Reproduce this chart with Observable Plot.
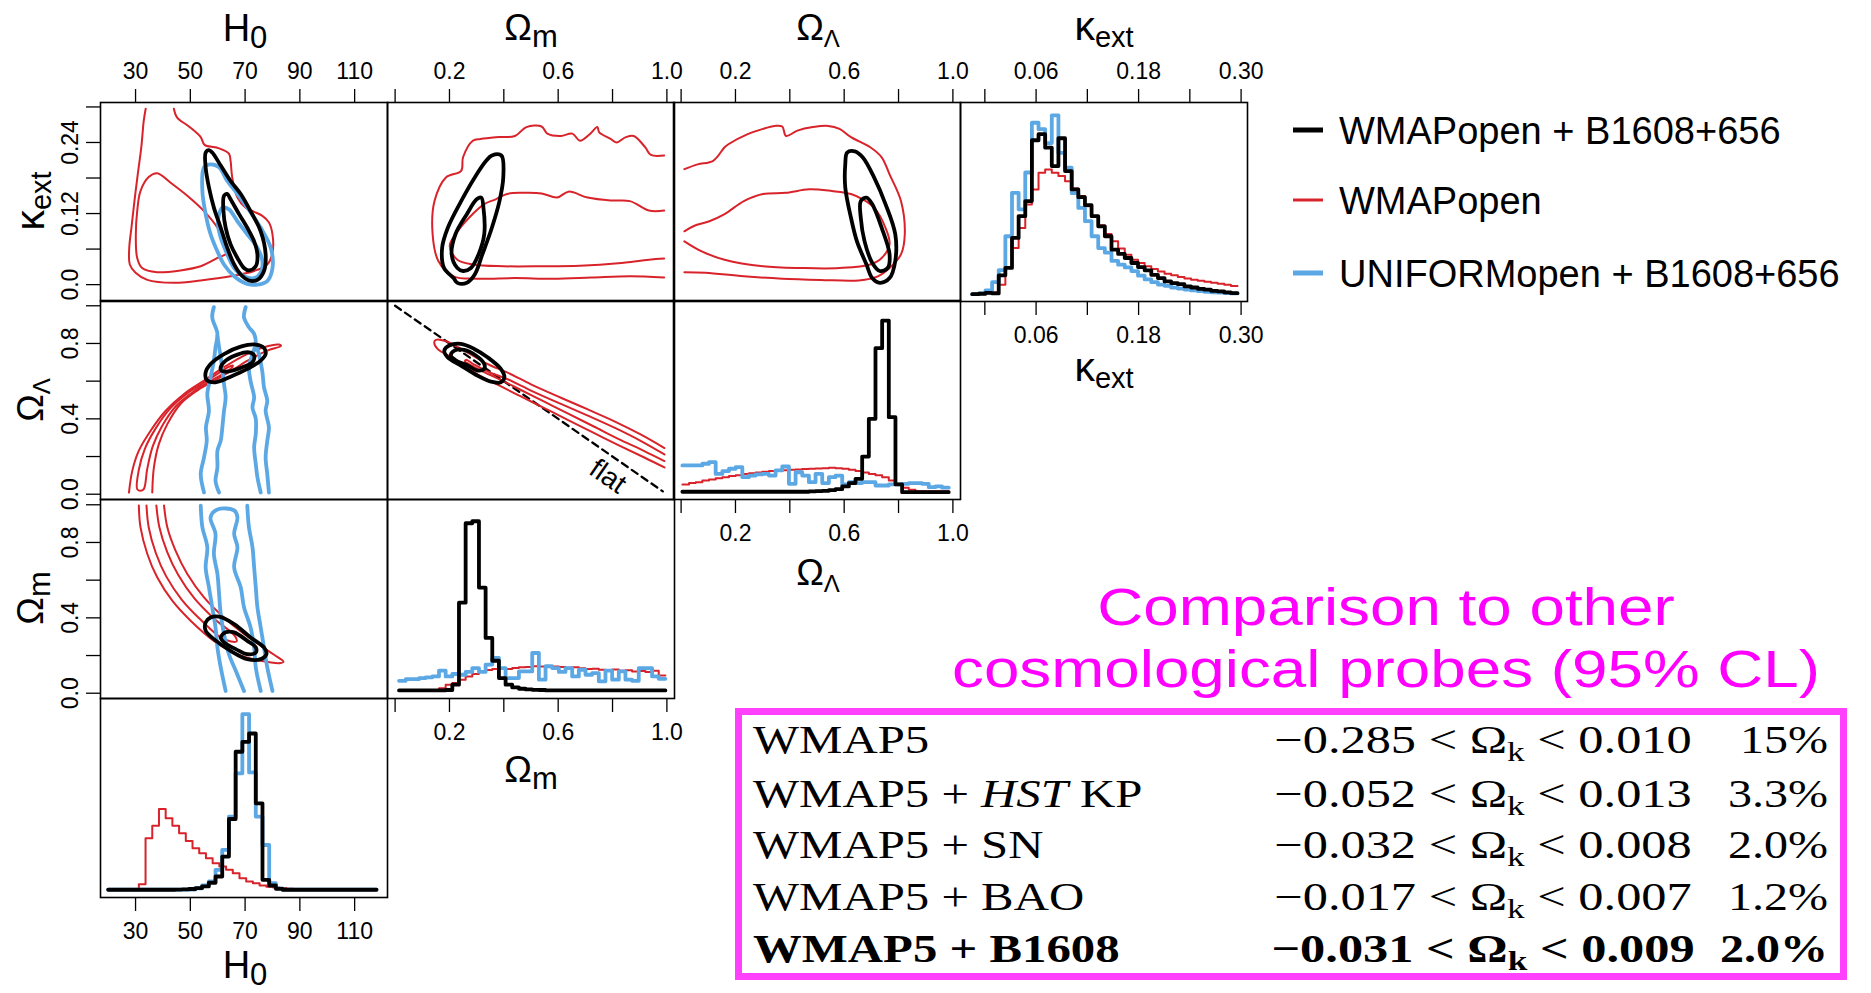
<!DOCTYPE html>
<html><head><meta charset="utf-8">
<script src="https://cdn.jsdelivr.net/npm/d3@7"></script>
<script src="https://cdn.jsdelivr.net/npm/@observablehq/plot@0.6"></script>
<style>
body{margin:0;background:#fff;}
#fig{position:relative;width:1871px;height:993px;overflow:hidden;background:#fff;font-family:"Liberation Sans",Arial,sans-serif;}
</style></head><body><div id="fig"></div><script>
// ---------- colours ----------
const RED = "#d8232a", BLUE = "#5ba8e5", BLACK = "#000";

// ---------- axis domains and ticks ----------
const H0_DOMAIN = [17.2, 122.0];
const OMEGA_DOMAIN = [-0.028, 1.028];
const KAPPA_DOMAIN = [-0.0285, 0.3075];
const HIST_DOMAIN = [-0.04, 1.04];
const H0_TICKS = [30, 50, 70, 90, 110];
const H0_TICK_TEXT = ["30", "50", "70", "90", "110"];
const OMEGA_TICKS = [0, 0.2, 0.4, 0.6, 0.8, 1.0];
const OMEGA_TOP_LABELED = [0.2, 0.6, 1.0];
const OMEGA_TOP_TEXT = ["0.2", "0.6", "1.0"];
const OMEGA_LEFT_LABELED = [0, 0.4, 0.8];
const OMEGA_LEFT_TEXT = ["0.0", "0.4", "0.8"];
const KAPPA_TICKS = [0, 0.06, 0.12, 0.18, 0.24, 0.30];
const KAPPA_TOP_LABELED = [0.06, 0.18, 0.30];
const KAPPA_TOP_TEXT = ["0.06", "0.18", "0.30"];
const KAPPA_LEFT_LABELED = [0, 0.12, 0.24];
const KAPPA_LEFT_TEXT = ["0.0", "0.12", "0.24"];

// ---------- contours: H0 vs kappa ----------
const hk_red95 = [[33.7,0.297],[33.0,0.277],[32.1,0.232],[30.8,0.186],[29.6,0.141],[28.5,0.096],[27.7,0.062],[27.9,0.034],[30.0,0.020],[34.3,0.008],[44.0,0.003],[53.8,0.007],[64.7,0.014],[73.3,0.023],[78.1,0.034],[80.0,0.054],[80.0,0.085],[78.7,0.105],[76.3,0.116],[73.3,0.123],[70.2,0.130],[67.2,0.147],[65.3,0.181],[64.7,0.209],[64.1,0.221],[59.9,0.231],[55.2,0.236],[53.8,0.249],[49.5,0.267],[45.2,0.282],[44.0,0.297]];
const hk_red68 = [[37.9,0.188],[34.9,0.182],[31.8,0.158],[30.6,0.124],[30.1,0.085],[30.6,0.045],[32.4,0.028],[37.9,0.021],[46.4,0.024],[53.8,0.031],[59.9,0.045],[63.5,0.054],[62.3,0.073],[59.9,0.096],[55.0,0.124],[48.9,0.150],[42.8,0.172]];
const hk_blue95 = [[55.0,0.198],[57.4,0.203],[60.5,0.198],[63.5,0.175],[67.2,0.153],[70.8,0.130],[75.7,0.096],[79.4,0.062],[80.0,0.028],[78.1,0.006],[74.5,0.000],[70.8,0.001],[66.0,0.014],[62.3,0.034],[59.9,0.056],[57.4,0.085],[55.6,0.119],[54.4,0.158]];
const hk_blue68 = [[60.5,0.119],[61.7,0.130],[64.1,0.127],[67.2,0.107],[70.8,0.085],[74.5,0.062],[76.3,0.040],[75.7,0.020],[73.3,0.011],[69.6,0.014],[66.0,0.028],[63.5,0.051],[61.1,0.079],[60.1,0.102]];
const hk_black95 = [[55.6,0.223],[56.8,0.227],[58.0,0.223],[61.1,0.201],[64.7,0.175],[68.4,0.153],[72.0,0.124],[75.7,0.090],[77.5,0.051],[76.9,0.023],[74.5,0.008],[71.4,0.007],[68.4,0.017],[66.0,0.034],[63.5,0.062],[61.1,0.096],[58.6,0.130],[56.8,0.164],[55.6,0.198]];
const hk_black68 = [[62.3,0.150],[63.5,0.153],[64.7,0.144],[67.8,0.119],[70.8,0.096],[73.3,0.073],[74.5,0.051],[73.9,0.031],[71.4,0.024],[69.6,0.028],[67.2,0.045],[64.7,0.068],[62.9,0.096],[62.1,0.124]];

// ---------- contours: Omega_m vs kappa ----------
const mk_red95 = [[0.990,0.218],[0.941,0.219],[0.920,0.232],[0.878,0.251],[0.849,0.249],[0.814,0.240],[0.793,0.246],[0.751,0.257],[0.744,0.266],[0.716,0.254],[0.680,0.243],[0.652,0.255],[0.610,0.251],[0.560,0.255],[0.539,0.267],[0.483,0.266],[0.441,0.251],[0.370,0.249],[0.314,0.246],[0.286,0.243],[0.250,0.215],[0.243,0.192],[0.187,0.181],[0.145,0.141],[0.138,0.085],[0.159,0.040],[0.215,0.014],[0.300,0.010],[0.441,0.011],[0.582,0.010],[0.723,0.012],[0.864,0.014],[0.990,0.012]];
const mk_red68 = [[0.990,0.125],[0.934,0.125],[0.864,0.141],[0.793,0.142],[0.708,0.147],[0.638,0.157],[0.596,0.147],[0.539,0.154],[0.469,0.155],[0.412,0.153],[0.370,0.144],[0.328,0.136],[0.272,0.113],[0.222,0.085],[0.201,0.065],[0.229,0.042],[0.286,0.034],[0.398,0.031],[0.539,0.031],[0.680,0.032],[0.821,0.036],[0.934,0.042],[0.990,0.044]];
const mk_black95 = [[0.215,0.011],[0.180,0.028],[0.173,0.062],[0.194,0.096],[0.243,0.141],[0.293,0.181],[0.335,0.209],[0.356,0.218],[0.391,0.218],[0.398,0.181],[0.384,0.141],[0.356,0.096],[0.321,0.051],[0.293,0.017],[0.264,0.003],[0.229,0.003]];
const mk_black68 = [[0.229,0.028],[0.208,0.051],[0.222,0.085],[0.264,0.119],[0.300,0.144],[0.317,0.147],[0.325,0.130],[0.328,0.085],[0.307,0.051],[0.279,0.028],[0.250,0.023]];

// ---------- contours: Omega_Lambda vs kappa ----------
const lk_red95 = [[0.012,0.195],[0.061,0.203],[0.118,0.209],[0.160,0.232],[0.174,0.237],[0.245,0.254],[0.301,0.263],[0.344,0.268],[0.372,0.267],[0.386,0.251],[0.428,0.260],[0.485,0.266],[0.541,0.268],[0.583,0.263],[0.625,0.249],[0.696,0.232],[0.738,0.215],[0.767,0.186],[0.809,0.141],[0.823,0.085],[0.809,0.051],[0.767,0.028],[0.724,0.014],[0.654,0.007],[0.513,0.008],[0.372,0.010],[0.231,0.014],[0.090,0.020],[0.012,0.021]];
const lk_red68 = [[0.012,0.090],[0.047,0.099],[0.104,0.107],[0.160,0.119],[0.231,0.141],[0.301,0.153],[0.386,0.155],[0.471,0.161],[0.555,0.158],[0.625,0.153],[0.668,0.144],[0.710,0.130],[0.752,0.096],[0.767,0.068],[0.738,0.045],[0.696,0.034],[0.583,0.028],[0.442,0.028],[0.301,0.031],[0.160,0.042],[0.076,0.056],[0.012,0.073]];
const lk_black95 = [[0.611,0.223],[0.639,0.225],[0.668,0.215],[0.710,0.181],[0.752,0.136],[0.788,0.085],[0.788,0.040],[0.767,0.011],[0.731,0.003],[0.703,0.011],[0.682,0.034],[0.647,0.073],[0.625,0.113],[0.604,0.164],[0.604,0.203]];
const lk_black68 = [[0.661,0.141],[0.682,0.147],[0.703,0.136],[0.738,0.096],[0.767,0.051],[0.760,0.028],[0.731,0.023],[0.703,0.037],[0.675,0.073],[0.661,0.113]];

// ---------- contours: H0 vs Omega_Lambda ----------
const hl_red95 = [[27.6,0.009],[28.8,0.124],[31.2,0.231],[35.5,0.337],[41.0,0.443],[47.7,0.532],[55.0,0.603],[62.3,0.674],[69.6,0.736],[76.9,0.780],[82.4,0.794],[83.1,0.787],[78.1,0.762],[72.0,0.718],[66.0,0.665],[59.9,0.612],[52.5,0.550],[46.4,0.479],[41.6,0.372],[38.5,0.266],[36.7,0.142],[36.1,0.009]];
const hl_red68 = [[31.8,0.018],[30.6,0.027],[31.2,0.130],[33.4,0.241],[37.3,0.348],[42.6,0.454],[49.1,0.537],[56.4,0.605],[63.4,0.671],[65.5,0.684],[64.9,0.667],[58.4,0.609],[51.1,0.544],[44.8,0.468],[39.7,0.362],[36.3,0.255],[34.3,0.137],[33.0,0.027]];
const hl_blue95_left = [[55.0,0.009],[53.8,0.107],[55.0,0.195],[56.0,0.284],[55.7,0.355],[56.8,0.443],[56.2,0.532],[57.4,0.620],[58.6,0.709],[59.2,0.780],[59.9,0.851],[58.0,0.939],[58.6,0.993]];
const hl_blue68_left = [[60.5,0.009],[59.2,0.071],[59.9,0.142],[59.9,0.231],[61.1,0.284],[61.7,0.355],[62.3,0.443],[62.9,0.514],[62.3,0.585],[61.7,0.656],[61.1,0.727],[60.5,0.780],[59.9,0.840]];
const hl_blue68_right = [[70.2,0.993],[69.6,0.939],[71.4,0.886],[73.3,0.851],[73.9,0.800],[72.7,0.744],[71.4,0.674],[72.0,0.600],[73.3,0.514],[72.7,0.460],[73.9,0.400],[73.9,0.320],[73.3,0.250],[73.9,0.160],[74.5,0.090],[75.7,0.009]];
const hl_blue95_right = [[73.9,0.800],[75.1,0.740],[76.3,0.650],[76.9,0.567],[78.1,0.496],[77.5,0.443],[78.7,0.355],[78.1,0.284],[77.5,0.195],[78.1,0.107],[78.7,0.009]];
const hl_black95 = [[55.6,0.647],[57.4,0.691],[62.3,0.744],[68.4,0.783],[73.9,0.794],[76.9,0.776],[77.5,0.744],[75.7,0.709],[70.8,0.665],[64.7,0.624],[59.2,0.594],[56.0,0.606]];
const hl_black68 = [[61.1,0.674],[62.9,0.709],[67.2,0.741],[71.4,0.753],[73.3,0.736],[72.7,0.700],[69.0,0.674],[64.1,0.652],[61.3,0.656]];

// ---------- contours: Omega_m vs Omega_Lambda ----------
const ml_red95 = [[0.991,0.245],[0.905,0.316],[0.807,0.387],[0.709,0.450],[0.610,0.512],[0.500,0.583],[0.414,0.645],[0.340,0.691],[0.254,0.762],[0.187,0.812],[0.150,0.819],[0.144,0.806],[0.156,0.771],[0.218,0.718],[0.291,0.647],[0.377,0.581],[0.463,0.519],[0.549,0.457],[0.635,0.395],[0.733,0.324],[0.831,0.254],[0.917,0.195],[0.991,0.142]];
const ml_red68 = [[0.991,0.211],[0.905,0.282],[0.807,0.353],[0.709,0.417],[0.610,0.479],[0.500,0.550],[0.414,0.610],[0.340,0.652],[0.291,0.688],[0.261,0.713],[0.257,0.705],[0.267,0.695],[0.316,0.656],[0.377,0.615],[0.463,0.553],[0.549,0.491],[0.635,0.429],[0.733,0.358],[0.831,0.287],[0.917,0.229],[0.991,0.176]];
const ml_black95 = [[0.181,0.762],[0.199,0.789],[0.242,0.798],[0.291,0.771],[0.340,0.727],[0.389,0.665],[0.402,0.620],[0.389,0.594],[0.353,0.597],[0.303,0.629],[0.242,0.683],[0.193,0.727]];
const ml_black68 = [[0.205,0.736],[0.218,0.762],[0.254,0.766],[0.297,0.736],[0.328,0.691],[0.328,0.665],[0.303,0.656],[0.267,0.683],[0.224,0.709]];
const flatOmegaM = [0.0, 0.985];            // flat universe: Omega_Lambda = 1 - Omega_m
const flatLabel = [{text: "flat", omegaM: 0.783}];

// ---------- contours: H0 vs Omega_m ----------
const hm_red95 = [[31.2,0.996],[31.8,0.881],[34.3,0.739],[37.9,0.615],[43.4,0.491],[50.1,0.385],[58.6,0.278],[67.2,0.207],[75.7,0.172],[83.0,0.160],[84.0,0.167],[80.6,0.204],[75.7,0.252],[69.6,0.314],[62.3,0.402],[55.0,0.509],[48.9,0.633],[44.6,0.757],[41.6,0.881],[40.4,0.996]];
const hm_red68 = [[34.0,0.996],[34.8,0.881],[37.4,0.744],[41.2,0.620],[46.9,0.496],[53.8,0.390],[61.9,0.289],[66.9,0.275],[66.3,0.303],[58.6,0.397],[51.5,0.503],[45.6,0.627],[41.5,0.752],[38.7,0.881],[37.6,0.996]];
const hm_blue95_left = [[53.8,0.996],[54.4,0.881],[56.2,0.775],[55.6,0.668],[56.8,0.562],[58.0,0.456],[59.2,0.349],[59.9,0.243],[61.1,0.137],[62.9,0.012]];
const hm_blue95_right = [[70.8,0.996],[71.4,0.881],[72.7,0.775],[73.3,0.668],[73.9,0.562],[74.5,0.456],[75.7,0.349],[76.9,0.243],[78.1,0.137],[80.0,0.012]];
const hm_blue68 = [[69.6,0.012],[66.6,0.119],[64.1,0.207],[62.3,0.314],[61.1,0.420],[60.5,0.527],[59.9,0.633],[58.6,0.739],[59.2,0.845],[57.4,0.934],[59.9,0.975],[66.0,0.970],[67.2,0.934],[66.0,0.845],[67.2,0.775],[66.0,0.668],[68.4,0.562],[69.6,0.456],[72.0,0.349],[73.3,0.243],[73.9,0.137],[75.7,0.012]];
const hm_black95 = [[55.6,0.376],[57.4,0.402],[60.5,0.406],[66.0,0.367],[72.0,0.296],[76.9,0.243],[77.8,0.208],[75.7,0.181],[70.8,0.181],[64.7,0.225],[58.6,0.287],[55.6,0.332]];
const hm_black68 = [[61.1,0.296],[62.9,0.323],[66.0,0.323],[70.8,0.278],[73.9,0.243],[73.9,0.216],[70.8,0.207],[66.6,0.234],[62.3,0.270]];

// ---------- marginal histograms (relative heights, 1 = tallest) ----------
const h0Bins = {start: 20.0, width: 2.45};
const h0Black = [0.002,0.002,0.002,0.002,0.002,0.002,0.002,0.002,0.002,0.002,0.003,0.004,0.006,0.011,0.020,0.040,0.074,0.182,0.386,0.751,0.805,0.850,0.471,0.056,0.025,0.007,0.002,0.002,0.002,0.002,0.002,0.002,0.002,0.002,0.002,0.002,0.002,0.002,0.002,0.002];
const h0Blue = [0.003,0.003,0.003,0.003,0.003,0.003,0.003,0.003,0.003,0.003,0.003,0.003,0.003,0.010,0.025,0.047,0.110,0.218,0.399,0.634,0.955,0.639,0.399,0.245,0.038,0.010,0.003,0.003,0.003,0.003,0.003,0.003,0.003,0.003,0.003,0.003,0.003,0.003,0.003,0.003];
const h0RedBins = {start: 28.75, width: 2.45};
const h0Red = [0.0,0.032,0.282,0.350,0.440,0.390,0.350,0.309,0.267,0.227,0.200,0.173,0.146,0.128,0.110,0.092,0.065,0.047,0.038,0.025,0.018,0.014,0.011,0.007,0.005];

const omBins = {start: 0.0145, width: 0.0245};
const omBlack = [0.004,0.004,0.004,0.004,0.004,0.004,0.004,0.006,0.035,0.480,0.911,0.922,0.562,0.289,0.165,0.071,0.035,0.020,0.013,0.009,0.007,0.006,0.004,0.004,0.004,0.004,0.004,0.004,0.004,0.004,0.004,0.004,0.004,0.004,0.004,0.004,0.004,0.004,0.004,0.004];
const omBlue = [0.056,0.065,0.065,0.071,0.075,0.080,0.111,0.080,0.093,0.089,0.104,0.125,0.104,0.144,0.180,0.125,0.071,0.071,0.107,0.107,0.207,0.062,0.135,0.125,0.104,0.125,0.080,0.116,0.089,0.098,0.053,0.111,0.062,0.107,0.062,0.056,0.125,0.125,0.080,0.067];
const omRed = [0.004,0.004,0.004,0.004,0.004,0.005,0.016,0.035,0.044,0.062,0.080,0.093,0.107,0.115,0.120,0.125,0.120,0.125,0.129,0.131,0.135,0.133,0.136,0.133,0.131,0.127,0.129,0.124,0.120,0.122,0.116,0.115,0.118,0.111,0.113,0.107,0.109,0.104,0.111,0.085];

const olBins = {start: 0.0047, width: 0.0245};
const olBlack = [0.002,0.002,0.002,0.002,0.002,0.002,0.002,0.002,0.002,0.002,0.002,0.002,0.002,0.002,0.002,0.002,0.002,0.002,0.002,0.004,0.005,0.007,0.011,0.016,0.031,0.049,0.072,0.193,0.398,0.781,0.931,0.407,0.042,0.0,0.0,0.0,0.0,0.0,0.0,0.0];
const olBlue = [0.145,0.145,0.145,0.154,0.163,0.099,0.114,0.127,0.136,0.081,0.090,0.096,0.099,0.090,0.118,0.139,0.045,0.108,0.090,0.054,0.099,0.049,0.081,0.090,0.042,0.054,0.049,0.054,0.054,0.036,0.036,0.042,0.042,0.045,0.049,0.049,0.045,0.027,0.031,0.024];
const olRed = [0.042,0.049,0.054,0.063,0.069,0.076,0.081,0.087,0.092,0.098,0.103,0.107,0.110,0.114,0.118,0.119,0.121,0.123,0.125,0.127,0.128,0.130,0.132,0.130,0.127,0.121,0.114,0.107,0.099,0.092,0.081,0.063,0.042,0.024,0.013,0.005,0.005,0.005,0.005,0.005];

const kBins = {start: -0.0148, width: 0.007765};
const kBlack = [0,0.002,0.007,0.004,0.102,0.142,0.305,0.423,0.505,0.835,0.868,0.795,0.695,0.846,0.668,0.568,0.526,0.483,0.423,0.368,0.314,0.241,0.218,0.196,0.169,0.147,0.129,0.105,0.087,0.069,0.060,0.054,0.042,0.036,0.029,0.024,0.018,0.015,0.009,0.005];
const kBlue = [0,0.004,0.020,0.065,0.130,0.314,0.550,0.460,0.660,0.930,0.895,0.820,0.970,0.767,0.686,0.548,0.468,0.396,0.314,0.250,0.225,0.180,0.160,0.145,0.125,0.100,0.080,0.065,0.052,0.045,0.035,0.030,0.025,0.020,0.016,0.013,0.010,0.008,0.006,0.004];
const kRed = [0,0.002,0.005,0.010,0.051,0.142,0.250,0.359,0.486,0.568,0.659,0.677,0.659,0.641,0.613,0.573,0.532,0.477,0.423,0.374,0.327,0.287,0.247,0.214,0.187,0.169,0.151,0.136,0.123,0.111,0.102,0.093,0.085,0.078,0.073,0.067,0.062,0.056,0.051,0.044];

// ---------- legend and table text ----------
const legendNames = ["WMAPopen + B1608+656", "WMAPopen", "UNIFORMopen + B1608+656"];
const legendColors = [BLACK, RED, BLUE];
const legendWidths = [5, 3, 5];
const probeTitle = ["Comparison to other", "cosmological probes (95% CL)"];
const probeNames = [["WMAP5"], ["WMAP5 + ", "HST", " KP"], ["WMAP5 + SN"], ["WMAP5 + BAO"], ["WMAP5 + B1608"]];
const omegaKLow = ["\u22120.285", "\u22120.052", "\u22120.032", "\u22120.017", "\u22120.031"];
const omegaKHigh = ["0.010", "0.013", "0.008", "0.007", "0.009"];
const omegaKPrecision = ["15%", "3.3%", "2.0%", "1.2%", "2.0%"];
const boldRow = [false, false, false, false, true];

// ================= drawing =================
const fig = document.getElementById("fig");
const PW = 287, PH = 199, ML = 60, MR = 24, MT = 52, MB = 64;
const COLX = [100, 386.7, 673.3, 960], ROWY = [101.7, 300.3, 499, 697.6];
const FONT = '"Liberation Sans", Arial, Helvetica, sans-serif';
const TICK_FONT = 23;

function tickFmt(labeled, texts) {
  return d => { const i = labeled.findIndex(v => Math.abs(v - d) < 1e-9); return i < 0 ? "" : texts[i]; };
}
const AX = {tickSize: 14, fontSize: TICK_FONT, strokeWidth: 1.3, label: null};
const topAxis = (t, l, s) => Plot.axisX(t, {...AX, anchor: "top", tickPadding: 10, tickFormat: tickFmt(l, s)});
const bottomAxis = (t, l, s) => Plot.axisX(t, {...AX, anchor: "bottom", tickPadding: 11, tickFormat: tickFmt(l, s)});
const leftAxis = (t, l, s) => Plot.axisY(t, {...AX, anchor: "left", tickPadding: 9, tickRotate: -90, textAnchor: "middle", lineAnchor: "bottom", tickFormat: tickFmt(l, s)});

function contour(pts, color, width, closed) {
  return Plot.line(pts, {x: d => d[0], y: d => d[1], stroke: color, strokeWidth: width,
    curve: closed ? "catmull-rom-closed" : "catmull-rom", strokeLinejoin: "round", strokeLinecap: "round", clip: true});
}
function hist(bins, values, color, width) {
  const data = values.map((v, i) => ({x: bins.start + i * bins.width, y: v}));
  data.push({x: bins.start + values.length * bins.width, y: values[values.length - 1]});
  return Plot.line(data, {x: "x", y: "y", curve: "step-after", stroke: color, strokeWidth: width, clip: true});
}
const TH = 3.8, TN = 2.0;

function panel(col, row, xd, yd, marks) {
  const svg = Plot.plot({
    width: PW + ML + MR, height: PH + MT + MB,
    marginLeft: ML, marginRight: MR, marginTop: MT, marginBottom: MB,
    x: {domain: xd, axis: null}, y: {domain: yd, axis: null},
    style: {background: "transparent", overflow: "visible", fontFamily: FONT, fontSize: TICK_FONT + "px", color: "#000"},
    marks: [...marks, Plot.frame({stroke: "#000", strokeWidth: 1.6})]
  });
  svg.style.position = "absolute";
  svg.style.left = (COLX[col] - ML) + "px";
  svg.style.top = (ROWY[row] - MT) + "px";
  fig.appendChild(svg);
}

// Row 1: kappa
panel(0, 0, H0_DOMAIN, KAPPA_DOMAIN, [
  contour(hk_red95, RED, TN, false), contour(hk_red68, RED, TN, true),
  contour(hk_blue95, BLUE, TH, true), contour(hk_blue68, BLUE, TH, true),
  contour(hk_black95, BLACK, TH, true), contour(hk_black68, BLACK, TH, true),
  topAxis(H0_TICKS, H0_TICKS, H0_TICK_TEXT), leftAxis(KAPPA_TICKS, KAPPA_LEFT_LABELED, KAPPA_LEFT_TEXT)]);
panel(1, 0, OMEGA_DOMAIN, KAPPA_DOMAIN, [
  contour(mk_red95, RED, TN, false), contour(mk_red68, RED, TN, false),
  contour(mk_black95, BLACK, TH, true), contour(mk_black68, BLACK, TH, true),
  topAxis(OMEGA_TICKS, OMEGA_TOP_LABELED, OMEGA_TOP_TEXT)]);
panel(2, 0, OMEGA_DOMAIN, KAPPA_DOMAIN, [
  contour(lk_red95, RED, TN, false), contour(lk_red68, RED, TN, false),
  contour(lk_black95, BLACK, TH, true), contour(lk_black68, BLACK, TH, true),
  topAxis(OMEGA_TICKS, OMEGA_TOP_LABELED, OMEGA_TOP_TEXT)]);
panel(3, 0, KAPPA_DOMAIN, HIST_DOMAIN, [
  hist(kBins, kRed, RED, TN), hist(kBins, kBlue, BLUE, TH), hist(kBins, kBlack, BLACK, TH),
  topAxis(KAPPA_TICKS, KAPPA_TOP_LABELED, KAPPA_TOP_TEXT), bottomAxis(KAPPA_TICKS, KAPPA_TOP_LABELED, KAPPA_TOP_TEXT)]);

// Row 2: Omega_Lambda
panel(0, 1, H0_DOMAIN, OMEGA_DOMAIN, [
  contour(hl_red95, RED, TN, false), contour(hl_red68, RED, TN, true),
  contour(hl_blue95_left, BLUE, TH, false), contour(hl_blue68_left, BLUE, TH, false),
  contour(hl_blue68_right, BLUE, TH, false), contour(hl_blue95_right, BLUE, TH, false),
  contour(hl_black95, BLACK, TH, true), contour(hl_black68, BLACK, TH, true),
  leftAxis(OMEGA_TICKS, OMEGA_LEFT_LABELED, OMEGA_LEFT_TEXT)]);
panel(1, 1, OMEGA_DOMAIN, OMEGA_DOMAIN, [
  Plot.line(flatOmegaM, {x: d => d, y: d => 1 - d, stroke: BLACK, strokeWidth: 2.3, strokeDasharray: "7,5", clip: true}),
  contour(ml_red95, RED, TN, false), contour(ml_red68, RED, TN, false),
  contour(ml_black95, BLACK, TH, true), contour(ml_black68, BLACK, TH, true),
  Plot.text(flatLabel, {x: "omegaM", y: d => 1 - d.omegaM, text: "text", dy: 23, rotate: 34.7, fontSize: 28, fill: BLACK})]);
panel(2, 1, OMEGA_DOMAIN, HIST_DOMAIN, [
  hist(olBins, olRed, RED, TN), hist(olBins, olBlue, BLUE, TH), hist(olBins, olBlack, BLACK, TH),
  bottomAxis(OMEGA_TICKS, OMEGA_TOP_LABELED, OMEGA_TOP_TEXT)]);

// Row 3: Omega_m
panel(0, 2, H0_DOMAIN, OMEGA_DOMAIN, [
  contour(hm_red95, RED, TN, false), contour(hm_red68, RED, TN, false),
  contour(hm_blue95_left, BLUE, TH, false), contour(hm_blue95_right, BLUE, TH, false), contour(hm_blue68, BLUE, TH, false),
  contour(hm_black95, BLACK, TH, true), contour(hm_black68, BLACK, TH, true),
  leftAxis(OMEGA_TICKS, OMEGA_LEFT_LABELED, OMEGA_LEFT_TEXT)]);
panel(1, 2, OMEGA_DOMAIN, HIST_DOMAIN, [
  hist(omBins, omRed, RED, TN), hist(omBins, omBlue, BLUE, TH), hist(omBins, omBlack, BLACK, TH),
  bottomAxis(OMEGA_TICKS, OMEGA_TOP_LABELED, OMEGA_TOP_TEXT)]);

// Row 4: H0
panel(0, 3, H0_DOMAIN, HIST_DOMAIN, [
  hist(h0RedBins, h0Red, RED, TN), hist(h0Bins, h0Blue, BLUE, TH), hist(h0Bins, h0Black, BLACK, TH),
  bottomAxis(H0_TICKS, H0_TICKS, H0_TICK_TEXT)]);

// ---------- overlay: titles, legend, comparison table ----------
const ov = d3.select(fig).append("svg").attr("width", 1871).attr("height", 993)
  .style("position", "absolute").style("left", "0px").style("top", "0px").style("font-family", FONT);

function axisTitle(x, y, main, sub, rot, mainSize, subSize) {
  const t = ov.append("text").attr("transform", `translate(${x},${y}) rotate(${rot})`)
    .attr("text-anchor", "middle").attr("font-size", mainSize).attr("fill", "#000");
  t.append("tspan").text(main);
  t.append("tspan").attr("font-size", subSize).attr("dy", 7).text(sub);
}
const titles = [
  {x: 245, y: 41, m: "H", s: "0", r: 0, ms: 38, ss: 31}, {x: 531, y: 40, m: "\u03A9", s: "m", r: 0, ms: 37, ss: 31},
  {x: 818, y: 40, m: "\u03A9", s: "\u039B", r: 0, ms: 37, ss: 24}, {x: 1104, y: 40, m: "\u03BA", s: "ext", r: 0, ms: 41, ss: 29},
  {x: 245, y: 978, m: "H", s: "0", r: 0, ms: 38, ss: 31}, {x: 531, y: 782, m: "\u03A9", s: "m", r: 0, ms: 37, ss: 31},
  {x: 818, y: 585, m: "\u03A9", s: "\u039B", r: 0, ms: 37, ss: 24}, {x: 1104, y: 381, m: "\u03BA", s: "ext", r: 0, ms: 41, ss: 29},
  {x: 44, y: 201, m: "\u03BA", s: "ext", r: -90, ms: 41, ss: 29}, {x: 43, y: 400, m: "\u03A9", s: "\u039B", r: -90, ms: 37, ss: 24},
  {x: 43, y: 598, m: "\u03A9", s: "m", r: -90, ms: 37, ss: 31}];
titles.forEach(t => axisTitle(t.x, t.y, t.m, t.s, t.r, t.ms, t.ss));

// legend
const legendY = [130, 200, 273];
legendNames.forEach((name, i) => {
  ov.append("line").attr("x1", 1293).attr("x2", 1323).attr("y1", legendY[i]).attr("y2", legendY[i])
    .attr("stroke", legendColors[i]).attr("stroke-width", legendWidths[i]);
  ov.append("text").attr("x", 1339).attr("y", legendY[i] + 13.5).attr("font-size", 38).attr("fill", "#000").text(name);
});

// magenta title
const titleY = [625, 687];
probeTitle.forEach((line, i) => {
  ov.append("text").attr("transform", `translate(1386,${titleY[i]}) scale(1.25,1)`).attr("text-anchor", "middle")
    .attr("font-size", 51).attr("fill", "#ff00ff").text(line);
});
// table box
ov.append("rect").attr("x", 738.5).attr("y", 711.5).attr("width", 1105).attr("height", 265)
  .attr("fill", "none").attr("stroke", "#ff40ff").attr("stroke-width", 7);
const rowY = [753.3, 806.7, 857.7, 910, 961.7];
const SERIF = '"Liberation Serif", "Times New Roman", serif';
probeNames.forEach((parts, i) => {
  const fw = boldRow[i] ? "bold" : "normal";
  const t1 = ov.append("text").attr("transform", `translate(753,${rowY[i]}) scale(1.22,1)`)
    .attr("font-family", SERIF).attr("font-size", 40).attr("font-weight", fw).attr("fill", "#000").attr("xml:space", "preserve");
  parts.forEach((p, j) => t1.append("tspan").attr("font-style", parts.length === 3 && j === 1 ? "italic" : "normal").text(p));
  const t2 = ov.append("text").attr("transform", `translate(1483,${rowY[i]}) scale(1.26,1)`).attr("text-anchor", "middle")
    .attr("font-family", SERIF).attr("font-size", 40).attr("font-weight", fw).attr("fill", "#000");
  t2.append("tspan").text(omegaKLow[i] + " < \u03A9");
  t2.append("tspan").attr("font-size", 28).attr("dy", 8).text("k");
  t2.append("tspan").attr("dy", -8).text(" < " + omegaKHigh[i]);
  ov.append("text").attr("transform", `translate(1828,${rowY[i]}) scale(1.2,1)`).attr("text-anchor", "end")
    .attr("font-family", SERIF).attr("font-size", 40).attr("font-weight", fw).attr("fill", "#000").text(omegaKPrecision[i]);
});
</script></body></html>
